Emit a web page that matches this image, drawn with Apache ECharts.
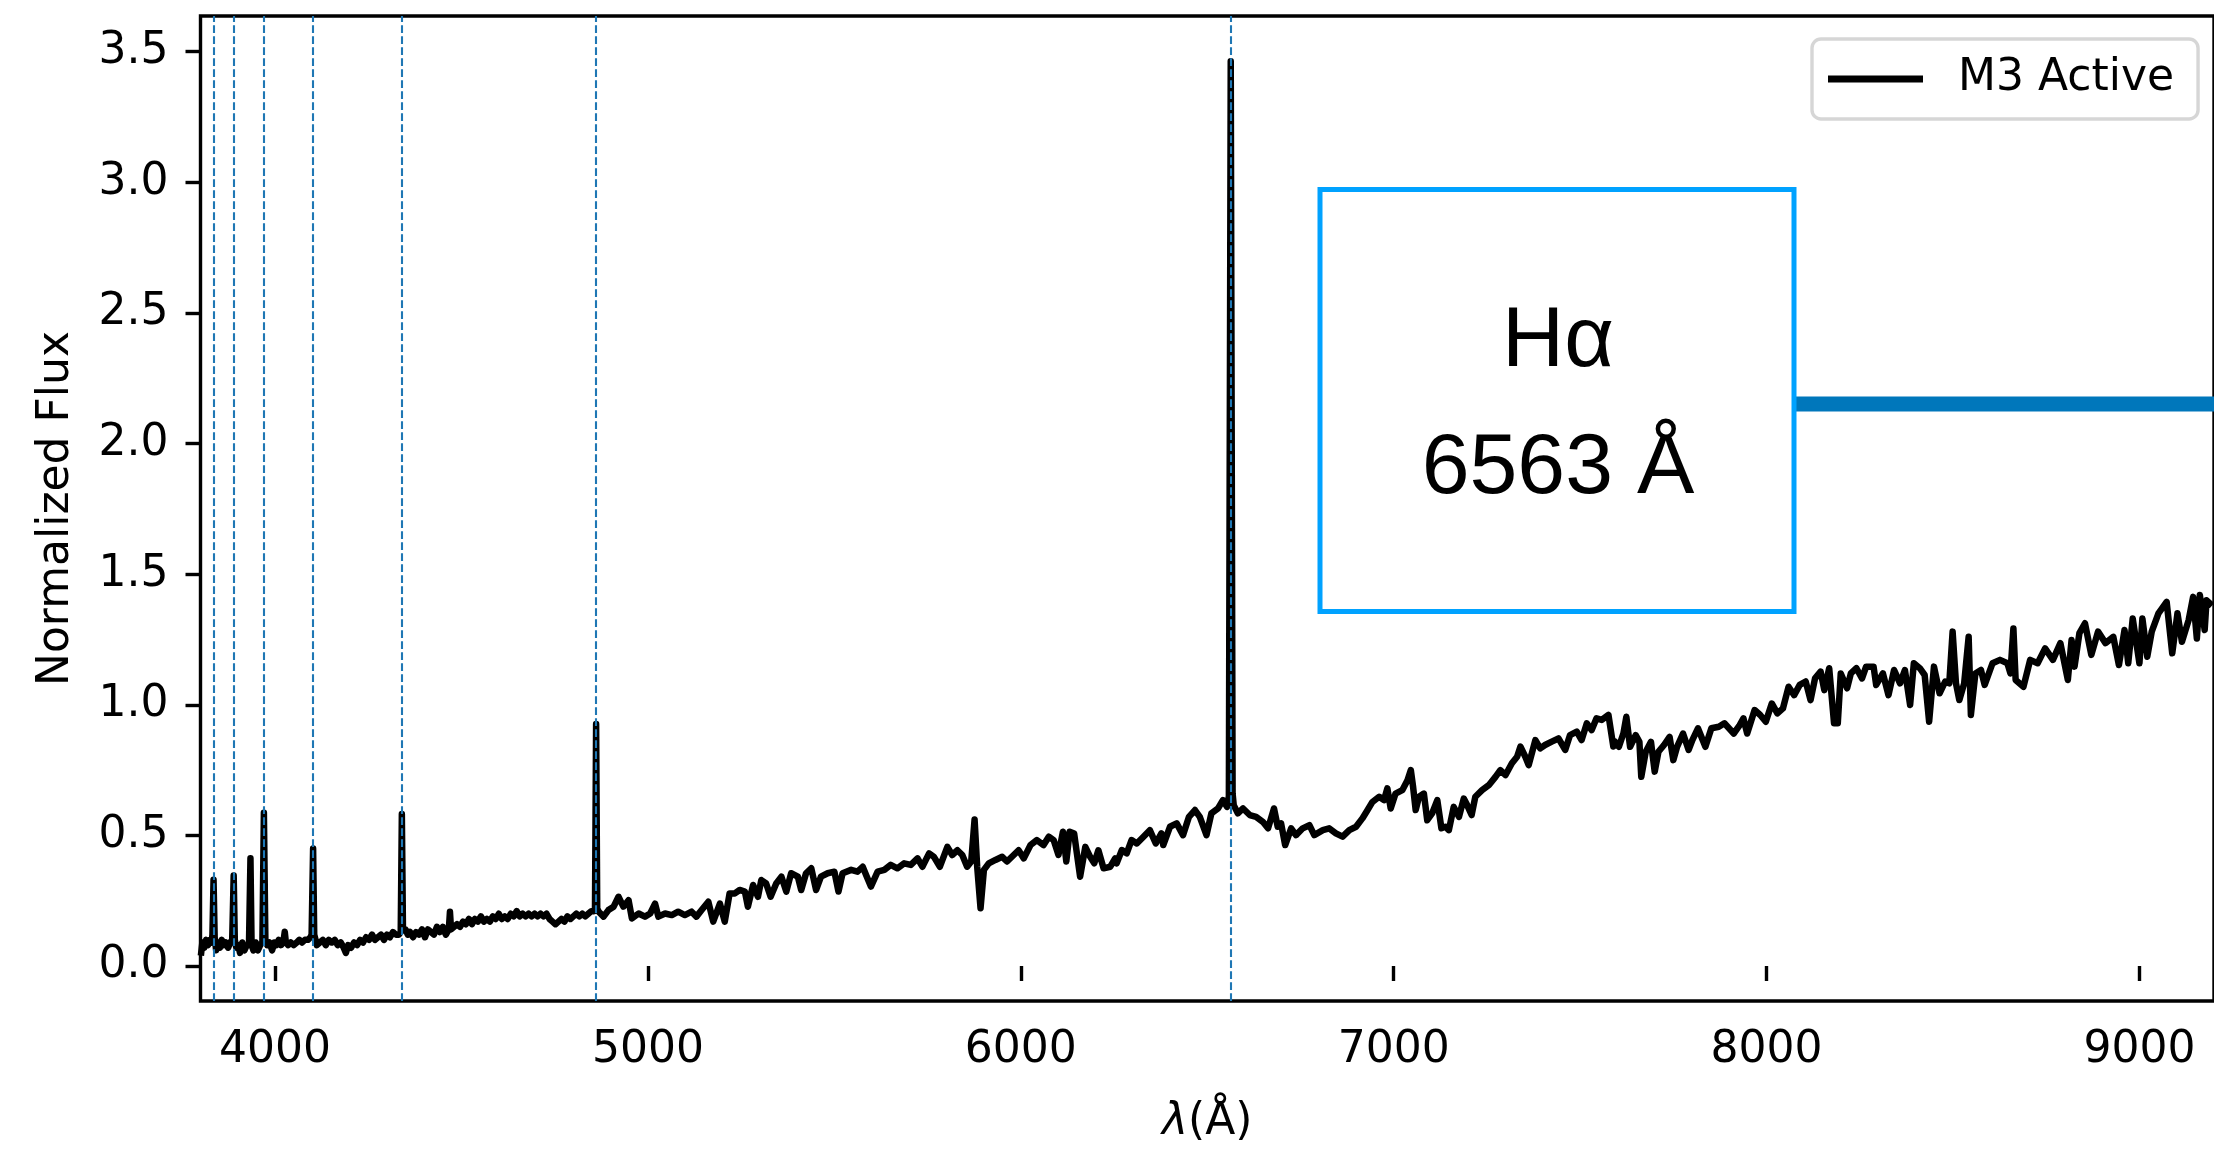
<!DOCTYPE html>
<html>
<head>
<meta charset="utf-8">
<script src="https://cdn.jsdelivr.net/npm/echarts@6/dist/echarts.min.js"></script>
<style>
html,body{margin:0;padding:0;background:#fff;}
#chart{width:2214px;height:1151px;}
</style>
</head>
<body>
<div id="chart"></div>
<script>
const wavelength = [
3801,3805,3810,3815,3820,3826,3830,3832,3835,3838,3842,3847,3852,3857,3862,3868,3874,3880,3885,3889,3892,3896,3901,3906,3912,3918,3924,3930,3934,3937,3942,3948,3954,3960,3966,3970,3974,3979,3985,3992,3998,4004,4010,4016,4022,4026,4029,4035,4042,4050,4058,4065,4072,4080,4088,4095,4098,4102,4105,4112,4120,4128,4136,4144,4152,4160,4168,4176,4184,4190,4196,4204,4212,4220,4228,4236,4244,4252,4260,4268,4276,4284,4292,4300,4308,4316,4324,4332,4337,4340,4343,4350,4356,4362,4370,4378,4386,4394,4402,4410,4418,4426,4434,4442,4450,4458,4466,4469,4472,4480,4488,4496,4504,4512,4520,4528,4536,4544,4552,4560,4568,4576,4584,4592,4600,4608,4616,4624,4632,4640,4648,4656,4664,4672,4680,4688,4696,4704,4712,4720,4728,4736,4744,4752,4760,4768,4776,4784,4792,4800,4808,4816,4824,4832,4840,4848,4855,4858,4861,4864,
4868,4881,4894,4908,4921,4934,4948,4957,4975,4992,5006,5019,5028,5046,5064,5081,5099,5117,5130,5144,5162,5175,5193,5206,5219,5233,5246,5260,5268,5282,5295,5304,5317,5329,5344,5358,5371,5384,5402,5411,5424,5438,5451,5464,5482,5500,5511,5522,5545,5562,5576,5587,5598,5616,5634,5651,5669,5687,5705,5723,5736,5754,5767,5783,5803,5816,5830,5843,5856,5867,5876,5883,5892,5901,5914,5932,5950,5963,5981,5994,6008,6026,6043,6061,6075,6088,6101,6113,6122,6131,6143,6159,6173,6186,6197,6208,6222,6240,6253,
6257,6271,6284,6297,6311,6329,6346,6362,6377,6382,6400,6418,6435,6451,6467,6480,6498,6511,6529,6542,6553,6558,6563,6568,6571,6582,6596,6614,6631,6649,6663,6679,6689,6698,6709,6725,6738,6756,6774,6787,6810,6827,6845,6863,6881,6899,6916,6930,6943,6961,6974,6983,6992,7005,7023,7037,7046,7052,7059,7068,7081,7090,7103,7117,7128,7139,7148,7161,7175,7188,7197,7209,7219,7237,7255,7273,7286,7300,7317,7331,7340,7353,7362,7380,7393,7406,7424,7442,7460,7473,7491,7504,7518,7531,7544,7558,7576,7589,
7593,7604,7616,7624,7634,7649,7659,7664,7676,7690,7700,7710,7725,7740,7750,7760,7776,7791,7801,7816,7836,7852,7872,7887,7912,7928,7938,7948,7968,7983,7998,8014,8029,8044,8059,8074,8089,8105,8118,8130,8145,8155,8168,8181,8191,8199,8216,8226,8241,8256,8267,8287,8294,8312,8327,8342,8358,8371,8385,8395,8411,8424,8436,8449,8464,8479,8490,8499,8508,8517,8530,8542,8548,8560,8575,8585,8606,8626,8646,8654,8662,8668,8689,8707,8727,8747,8768,8788,8808,8818,8826,8839,8854,8871,8889,8909,8930,8945,8960,8970,8982,9000,9008,9021,9033,9051,9073,9088,9102,9114,9132,9144,9154,9162,9175,9180,9195
];
const flux = [
0.04,0.09,0.07,0.10,0.08,0.10,0.09,0.12,0.33,0.11,0.06,0.09,0.07,0.10,0.08,0.09,0.07,0.09,0.10,0.346,0.10,0.07,0.08,0.05,0.09,0.06,0.08,0.08,0.412,0.08,0.06,0.09,0.06,0.08,0.09,0.587,0.10,0.08,0.09,0.06,0.09,0.08,0.10,0.08,0.09,0.131,0.09,0.08,0.09,0.08,0.09,0.10,0.09,0.10,0.10,0.11,0.12,0.45,0.12,0.08,0.09,0.10,0.08,0.10,0.09,0.10,0.08,0.09,0.07,0.05,0.08,0.07,0.09,0.08,0.10,0.09,0.11,0.10,0.12,0.10,0.11,0.12,0.10,0.12,0.11,0.13,0.12,0.12,0.13,0.582,0.14,0.14,0.12,0.13,0.11,0.13,0.12,0.14,0.11,0.14,0.13,0.12,0.15,0.13,0.15,0.12,0.14,0.208,0.14,0.15,0.16,0.15,0.17,0.16,0.18,0.16,0.18,0.17,0.19,0.17,0.18,0.17,0.19,0.18,0.20,0.18,0.19,0.18,0.20,0.19,0.21,0.19,0.20,0.19,0.20,0.19,0.20,0.19,0.20,0.19,0.20,0.18,0.17,0.16,0.17,0.18,0.17,0.19,0.18,0.19,0.20,0.19,0.20,0.19,0.20,0.21,0.21,0.22,0.926,0.22,
0.208,0.189,0.214,0.227,0.265,0.227,0.252,0.182,0.201,0.189,0.201,0.239,0.189,0.201,0.195,0.208,0.195,0.208,0.189,0.214,0.246,0.170,0.239,0.170,0.278,0.278,0.291,0.285,0.227,0.310,0.265,0.329,0.316,0.265,0.316,0.342,0.285,0.355,0.342,0.291,0.355,0.374,0.291,0.342,0.355,0.361,0.285,0.355,0.368,0.361,0.380,0.342,0.304,0.361,0.368,0.387,0.374,0.393,0.387,0.412,0.380,0.431,0.418,0.380,0.456,0.425,0.443,0.425,0.380,0.400,0.561,0.380,0.221,0.368,0.393,0.406,0.418,0.400,0.425,0.443,0.412,0.463,0.482,0.463,0.495,0.482,0.425,0.514,0.400,0.514,0.507,0.342,0.456,0.418,0.393,0.443,0.374,0.380,0.412,
0.393,0.444,0.431,0.482,0.469,0.495,0.520,0.469,0.508,0.463,0.533,0.546,0.501,0.571,0.597,0.571,0.501,0.584,0.603,0.635,0.609,0.65,3.463,0.66,0.616,0.584,0.603,0.578,0.571,0.552,0.527,0.603,0.533,0.546,0.463,0.527,0.501,0.527,0.539,0.501,0.520,0.527,0.508,0.495,0.520,0.533,0.565,0.597,0.628,0.648,0.635,0.680,0.603,0.660,0.673,0.711,0.750,0.686,0.597,0.648,0.660,0.558,0.584,0.635,0.527,0.533,0.520,0.609,0.571,0.641,0.616,0.578,0.648,0.673,0.692,0.724,0.750,0.731,0.776,0.801,0.840,0.801,0.769,0.865,0.833,0.846,0.859,0.871,0.827,0.884,0.897,0.865,0.929,0.903,0.948,0.942,0.961,0.840,
0.86,0.839,0.890,0.954,0.839,0.884,0.858,0.724,0.820,0.858,0.744,0.820,0.846,0.877,0.788,0.839,0.890,0.827,0.865,0.910,0.839,0.910,0.916,0.929,0.890,0.922,0.948,0.890,0.980,0.961,0.935,1.005,0.967,0.986,1.069,1.037,1.076,1.089,1.018,1.101,1.127,1.056,1.140,0.929,0.929,1.120,1.063,1.120,1.140,1.101,1.146,1.146,1.076,1.120,1.037,1.133,1.082,1.133,0.999,1.159,1.140,1.114,0.935,1.146,1.044,1.089,1.082,1.280,1.082,1.018,1.082,1.260,0.961,1.120,1.133,1.076,1.159,1.172,1.159,1.120,1.292,1.095,1.069,1.172,1.159,1.216,1.172,1.236,1.095,1.248,1.146,1.274,1.312,1.191,1.280,1.236,1.260,1.152,1.286,1.159,1.330,1.159,1.330,1.184,1.280,1.350,1.394,1.197,1.350,1.241,1.324,1.413,1.254,1.420,1.286,1.400,1.380
];
const lineMarks = [3835, 3889, 3970, 4102, 4340, 4861, 6563];
const xTicks = [4000, 5000, 6000, 7000, 8000, 9000];
const yTicks = [0.0, 0.5, 1.0, 1.5, 2.0, 2.5, 3.0, 3.5];
const seriesName = 'M3 Active';
const annotationLines = ['Hα', '6563 Å'];

const spectrum = wavelength.map((w, i) => [w, flux[i]]);
const FONT = 'DejaVu Sans';
const FS = 44;

const chart = echarts.init(document.getElementById('chart'), null, {renderer: 'canvas'});
chart.setOption({
  animation: false,
  backgroundColor: '#ffffff',
  textStyle: {fontFamily: FONT},
  grid: {
    left: 200.5, top: 16, width: 2020.5, height: 985,
    show: true, borderColor: '#000000', borderWidth: 3.4, backgroundColor: 'transparent',
    containLabel: false
  },
  xAxis: {
    type: 'value', min: 3800, max: 9200,
    axisLine: {show: false},
    splitLine: {show: false},
    axisTick: {show: true, inside: false, length: 15, customValues: xTicks,
      lineStyle: {color: '#000', width: 3.4}},
    axisLabel: {customValues: xTicks, color: '#000', fontFamily: FONT, fontSize: FS, margin: 28,
      formatter: v => String(v)},
    name: '{i|λ}(Å)',
    nameLocation: 'middle', nameGap: 100,
    nameTextStyle: {color: '#000', fontFamily: FONT, fontSize: FS,
      rich: {i: {fontStyle: 'italic', fontFamily: FONT, fontSize: FS, color: '#000'}}}
  },
  yAxis: {
    type: 'value', min: -0.134, max: 3.6367,
    axisLine: {show: false},
    splitLine: {show: false},
    axisTick: {show: true, inside: false, length: 15, customValues: yTicks,
      lineStyle: {color: '#000', width: 3.4}},
    axisLabel: {customValues: yTicks, color: '#000', fontFamily: FONT, fontSize: FS, margin: 32,
      padding: [5, 0, 0, 0],
      formatter: v => v.toFixed(1)},
    name: 'Normalized Flux',
    nameLocation: 'middle', nameGap: 122, nameRotate: 90,
    nameTextStyle: {color: '#000', fontFamily: FONT, fontSize: FS}
  },
  legend: {
    show: true,
    data: [seriesName],
    left: 1812, top: 39,
    orient: 'horizontal',
    padding: [18, 24, 18, 16],
    itemWidth: 95, itemHeight: 7,
    icon: 'rect',
    backgroundColor: 'rgba(255,255,255,0.8)',
    borderColor: '#d6d6d6', borderWidth: 3.4, borderRadius: 9,
    textStyle: {color: '#000', fontFamily: FONT, fontSize: FS, padding: [0, 0, 0, 30]}
  },
  series: [{
    name: seriesName,
    type: 'line',
    data: spectrum,
    showSymbol: false,
    symbol: 'none',
    clip: true,
    color: '#000000',
    lineStyle: {color: '#000000', width: 6.5, join: 'round'},
    z: 2,
    markLine: {
      silent: true,
      symbol: ['none', 'none'],
      label: {show: false},
      z: 5,
      lineStyle: {color: '#1f77b4', width: 2.1, type: [7.7, 3.3], opacity: 1},
      emphasis: {disabled: true},
      data: lineMarks.map(v => ({xAxis: v}))
    }
  }],
  graphic: [
    {type: 'line', z: 20, shape: {x1: 1796, y1: 404, x2: 2230, y2: 404},
      style: {stroke: '#0077bb', lineWidth: 15}},
    {type: 'rect', z: 21, shape: {x: 1320, y: 189.5, width: 474, height: 422},
      style: {fill: '#ffffff', stroke: '#00a2ff', lineWidth: 5}},
    {type: 'text', z: 22, x: 1558, y: 342,
      style: {text: annotationLines[0], fill: '#000', font: '86px "Liberation Sans"', textAlign: 'center', textVerticalAlign: 'middle'}},
    {type: 'text', z: 22, x: 1558, y: 469,
      style: {text: annotationLines[1], fill: '#000', font: '86px "Liberation Sans"', textAlign: 'center', textVerticalAlign: 'middle'}}
  ]
});
</script>
</body>
</html>
